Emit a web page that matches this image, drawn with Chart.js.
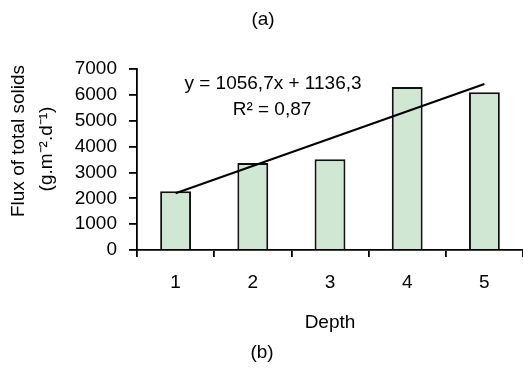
<!DOCTYPE html>
<html>
<head>
<meta charset="utf-8">
<script src="https://cdn.jsdelivr.net/npm/chart.js@4"></script>
<style>
  html, body { margin: 0; padding: 0; background: #fff; }
  #wrap { width: 523px; height: 374px; }
</style>
</head>
<body>
<div id="wrap"><canvas id="fluxChart" width="523" height="374"></canvas></div>
<script>
(function () {
    "use strict";

    // values
    const depths = ['1', '2', '3', '4', '5'];
    const fluxValues = [2270, 3360, 3510, 6300, 6100];
    // trend line ends, from y = 1056,7x + 1136,3 at depth 1 and depth 5
    const trendValues = [2193, null, null, null, 6420];
    const yTicks = [0, 1000, 2000, 3000, 4000, 5000, 6000, 7000];

    const FONT = '"Liberation Sans", Arial, sans-serif';
    Chart.defaults.font.family = FONT;
    Chart.defaults.font.size = 19;
    Chart.defaults.color = '#000';

    const extraText = {
        id: 'extraText',
        afterDraw(chart) {
            const c = chart.ctx;
            c.save();
            c.fillStyle = '#000';
            c.font = '19px ' + FONT;
            c.textAlign = 'center';
            c.textBaseline = 'middle';
            c.fillText('(a)', 263, 20);
            c.fillText('(b)', 262, 353);
            c.fillText('y = 1056,7x + 1136,3', 273, 84);
            c.fillText('R² = 0,87', 272, 110);

            c.save();
            c.translate(19, 141);
            c.rotate(-Math.PI / 2);
            c.fillText('Flux of total solids', 0, 0);
            c.restore();
            c.save();
            c.translate(47, 149);
            c.rotate(-Math.PI / 2);
            c.fillText('(g.m⁻².d⁻¹)', 0, 0);
            c.restore();
            c.restore();
        }
    };

    const ctx = document.getElementById('fluxChart');
    new Chart(ctx, {
        data: {
            labels: depths,
            datasets: [
                {
                    type: 'line',
                    data: trendValues,
                    spanGaps: true,
                    borderColor: '#000',
                    borderWidth: 2,
                    pointRadius: 0,
                    order: 0
                },
                {
                    type: 'bar',
                    data: fluxValues,
                    backgroundColor: '#cfe7d3',
                    borderColor: '#111',
                    borderWidth: 2,
                    barPercentage: 0.4,
                    categoryPercentage: 1,
                    order: 1
                }
            ]
        },
        options: {
            responsive: false,
            animation: false,
            layout: { padding: { top: 69, left: 0, right: 0, bottom: 40 } },
            plugins: {
                legend: { display: false },
                tooltip: { enabled: false }
            },
            scales: {
                x: {
                    offset: true,
                    grid: {
                        offset: true,
                        drawOnChartArea: false,
                        tickLength: 7,
                        color: '#000',
                        lineWidth: 1.8
                    },
                    border: { color: '#000', width: 1.8 },
                    ticks: { padding: 14, font: { size: 19 } },
                    title: {
                        display: true,
                        text: 'Depth',
                        font: { size: 19 },
                        padding: { top: 0, bottom: 0 }
                    },
                    afterFit(scale) { scale.height = 84; }
                },
                y: {
                    min: 0,
                    max: 7000,
                    afterBuildTicks(scale) {
                        scale.ticks = yTicks.map(v => ({ value: v }));
                    },
                    grid: {
                        drawOnChartArea: false,
                        tickLength: 8,
                        color: '#000',
                        lineWidth: 1.8
                    },
                    border: { color: '#000', width: 1.8 },
                    ticks: {
                        padding: 12,
                        font: { size: 19 },
                        callback: v => String(v)
                    },
                    afterFit(scale) { scale.width = 137; }
                }
            }
        },
        plugins: [extraText]
    });
}());
</script>
</body>
</html>
